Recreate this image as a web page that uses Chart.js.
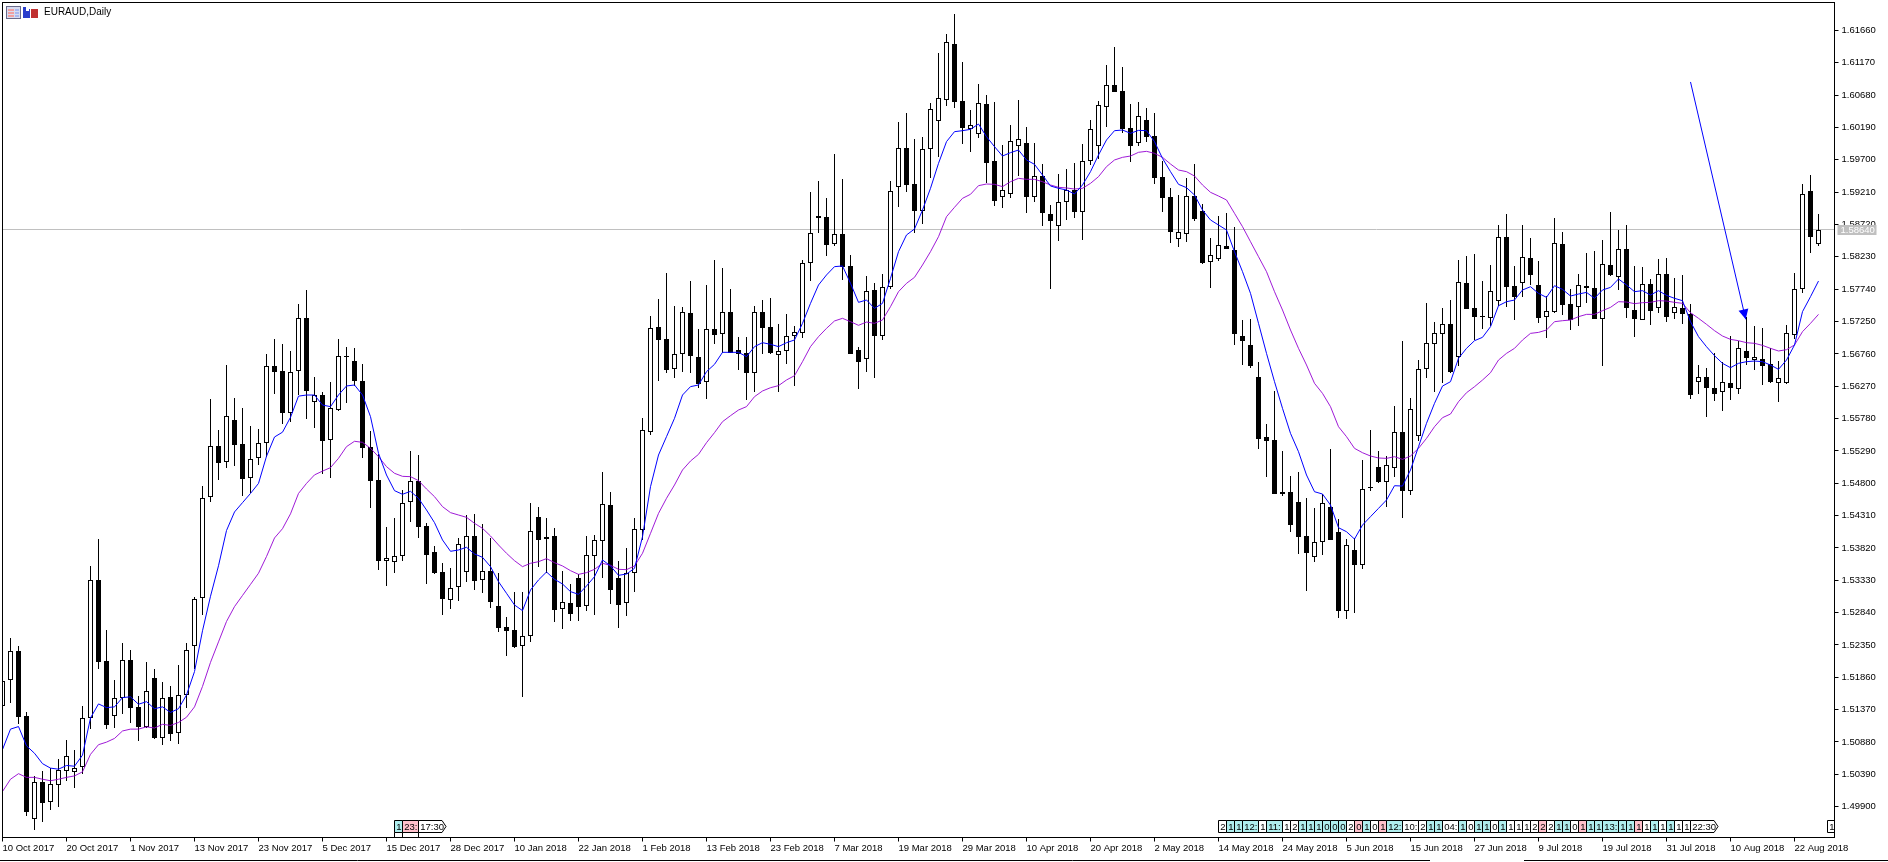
<!DOCTYPE html>
<html>
<head>
<meta charset="utf-8">
<title>EURAUD,Daily</title>
<style>
  html, body { margin: 0; padding: 0; background: #fff; overflow: hidden; }
  canvas { display: block; }
</style>
<script src="https://cdn.jsdelivr.net/npm/chart.js@4"></script>
</head>
<body>
<canvas id="chart" width="1888" height="862"></canvas>
<script>
const symbolTitle = 'EURAUD,Daily';
const lastPrice = 1.5864;

const tickDates = ['10 Oct 2017','20 Oct 2017','1 Nov 2017','13 Nov 2017','23 Nov 2017','5 Dec 2017','15 Dec 2017','28 Dec 2017','10 Jan 2018','22 Jan 2018','1 Feb 2018','13 Feb 2018','23 Feb 2018','7 Mar 2018','19 Mar 2018','29 Mar 2018','10 Apr 2018','20 Apr 2018','2 May 2018','14 May 2018','24 May 2018','5 Jun 2018','15 Jun 2018','27 Jun 2018','9 Jul 2018','19 Jul 2018','31 Jul 2018','10 Aug 2018','22 Aug 2018'];
const priceTicks = [1.6166,1.6117,1.6068,1.6019,1.597,1.5921,1.5872,1.5823,1.5774,1.5725,1.5676,1.5627,1.5578,1.5529,1.548,1.5431,1.5382,1.5333,1.5284,1.5235,1.5186,1.5137,1.5088,1.5039,1.499];

const opens = [
1.51429,1.51812,1.52256,1.51272,1.4972,1.50271,1.49978,1.50231,1.50445,1.50428,
1.50496,1.51249,1.5333,1.52104,1.51277,1.51542,1.52115,1.51412,1.51103,1.51857,
1.50946,1.51559,1.51013,1.51587,1.52329,1.53055,1.54596,1.5536,1.55119,1.55754,
1.55389,1.54877,1.55186,1.55405,1.5657,1.56497,1.55872,1.56497,1.57301,1.56024,
1.56131,1.55451,1.55915,1.56723,1.56653,1.56345,1.5535,1.54845,1.53627,1.53612,
1.53693,1.54511,1.5484,1.54148,1.53754,1.53451,1.53026,1.53223,1.53451,1.53996,
1.53329,1.53471,1.52936,1.52617,1.52572,1.5233,1.52481,1.54284,1.53951,1.53996,
1.5289,1.52981,1.5336,1.52946,1.53703,1.53931,1.54466,1.5336,1.52981,1.53446,
1.54087,1.55572,1.57163,1.56981,1.56526,1.56754,1.57375,1.56708,1.56339,1.57132,
1.57057,1.5739,1.56814,1.56769,1.56476,1.5739,1.57163,1.56738,1.56799,1.57036,
1.57072,1.58132,1.58844,1.58829,1.5842,1.58572,1.58087,1.56814,1.56678,1.57723,
1.57036,1.57769,1.59294,1.59875,1.59334,1.5893,1.59869,1.60294,1.60602,1.6145,
1.60587,1.60173,1.60097,1.60546,1.59678,1.59142,1.59188,1.59915,1.5995,1.59142,
1.59455,1.5888,1.58703,1.59066,1.59243,1.58915,1.59678,1.59905,1.60506,1.60834,
1.60743,1.60178,1.5996,1.60299,1.60061,1.59435,1.59137,1.58496,1.58572,1.59152,
1.58925,1.58147,1.58193,1.5839,1.58334,1.57026,1.5689,1.5641,1.55501,1.55455,
1.54667,1.54667,1.54516,1.54001,1.53687,1.53915,1.5444,1.54061,1.52869,1.53789,
1.53566,1.54738,1.55046,1.54824,1.55036,1.55576,1.54688,1.55521,1.56526,1.56915,
1.57066,1.57213,1.56708,1.57834,1.5745,1.57334,1.57309,1.57566,1.58526,1.57783,
1.57839,1.58208,1.57799,1.57314,1.574,1.5842,1.57511,1.57465,1.57763,1.57753,
1.57294,1.58102,1.5792,1.58344,1.5742,1.57268,1.57814,1.5745,1.57965,1.57374,
1.57455,1.57364,1.56329,1.56405,1.56238,1.56177,1.56314,1.56223,1.56799,1.56667,
1.56677,1.56602,1.56314,1.56314,1.57041,1.57748,1.59223,1.5842];

const closes = [
1.51806,1.52256,1.51266,1.49826,1.50271,1.49961,1.50237,1.50456,1.50664,1.5049,
1.51238,1.5333,1.52099,1.51142,1.51542,1.52115,1.51401,1.51114,1.5166,1.50946,
1.51542,1.51007,1.51587,1.52267,1.53043,1.54584,1.5536,1.55113,1.55816,1.55383,
1.54871,1.55175,1.55405,1.56581,1.56491,1.55872,1.5648,1.57301,1.56193,1.56142,
1.55445,1.55936,1.56723,1.56718,1.56355,1.5534,1.5484,1.53627,1.53663,1.53693,
1.54496,1.5483,1.54143,1.53718,1.53441,1.53052,1.53208,1.53875,1.53996,1.53324,
1.53466,1.53006,1.52612,1.52567,1.5232,1.52481,1.54072,1.53946,1.53991,1.52885,
1.53006,1.52824,1.5293,1.53708,1.53936,1.54481,1.53188,1.52961,1.53436,1.54102,
1.55602,1.57147,1.56976,1.56521,1.56754,1.5739,1.56733,1.56304,1.57132,1.57051,
1.5739,1.56779,1.56764,1.56476,1.5739,1.57158,1.56779,1.56799,1.57036,1.57087,
1.58132,1.58587,1.58824,1.58415,1.58572,1.58082,1.56764,1.56642,1.57718,1.57036,
1.57769,1.59223,1.59875,1.59319,1.5893,1.59864,1.60465,1.60632,1.61481,1.60582,
1.60188,1.60223,1.60556,1.59657,1.59082,1.59238,1.59981,1.60011,1.59142,1.5945,
1.589,1.58779,1.59056,1.59243,1.58915,1.59678,1.60162,1.60526,1.60829,1.60733,
1.60167,1.59915,1.60359,1.60051,1.5943,1.59127,1.58612,1.58602,1.59147,1.58809,
1.58137,1.58253,1.58405,1.58354,1.57066,1.5696,1.56582,1.5547,1.55445,1.54637,
1.54637,1.54172,1.53986,1.53743,1.53905,1.54496,1.5394,1.52864,1.53864,1.53561,
1.54708,1.54723,1.54819,1.55071,1.55571,1.54688,1.5592,1.56526,1.5692,1.57071,
1.57208,1.56485,1.57844,1.5744,1.57319,1.57319,1.57708,1.58526,1.57778,1.57627,
1.58223,1.5796,1.57309,1.57405,1.58435,1.57506,1.57273,1.57799,1.57793,1.57294,
1.58117,1.5796,1.58344,1.5746,1.57294,1.57814,1.57415,1.57965,1.57324,1.57465,
1.57359,1.56142,1.56405,1.56248,1.56157,1.56329,1.56243,1.56844,1.56703,1.56708,
1.56581,1.56339,1.56389,1.57071,1.57738,1.59177,1.58536,1.5864];

const highs = [
1.51975,1.52453,1.52329,1.51328,1.50372,1.5044,1.50484,1.50625,1.50906,1.5076,
1.51424,1.53544,1.53954,1.52577,1.51817,1.5238,1.52273,1.51581,1.52087,1.51986,
1.51795,1.51733,1.52048,1.5238,1.53071,1.54759,1.56075,1.55608,1.56592,1.56092,
1.5594,1.5567,1.55625,1.56761,1.56986,1.56913,1.56806,1.57514,1.57728,1.56412,
1.56182,1.56329,1.56981,1.56865,1.56845,1.56602,1.55592,1.55239,1.54138,1.54274,
1.54698,1.55289,1.55228,1.54193,1.5385,1.53587,1.53511,1.53966,1.54319,1.54335,
1.54183,1.53971,1.53436,1.52774,1.53153,1.53153,1.54496,1.54436,1.54274,1.54117,
1.53471,1.53274,1.5342,1.53996,1.54016,1.54971,1.54668,1.53622,1.53819,1.54274,
1.55789,1.57334,1.57592,1.57986,1.57486,1.57476,1.57865,1.57137,1.57804,1.58183,
1.58062,1.57743,1.57016,1.57016,1.57486,1.57577,1.57607,1.57213,1.57365,1.57183,
1.58183,1.59213,1.5938,1.59122,1.59789,1.5941,1.58259,1.56865,1.5794,1.57834,
1.57971,1.5938,1.60268,1.60405,1.60011,1.60046,1.60556,1.61319,1.61607,1.6191,
1.61188,1.60455,1.60849,1.60678,1.60577,1.59925,1.60228,1.60607,1.60198,1.59955,
1.59637,1.59016,1.59486,1.59561,1.59652,1.5994,1.60304,1.60587,1.61137,1.6141,
1.61107,1.60546,1.60577,1.60486,1.6041,1.59683,1.59274,1.59167,1.59425,1.59637,
1.59031,1.58516,1.58849,1.58895,1.58683,1.57274,1.57289,1.56637,1.55698,1.56198,
1.55289,1.5491,1.5497,1.54576,1.54425,1.54632,1.55319,1.54258,1.53955,1.53965,
1.55152,1.55607,1.55289,1.55213,1.5597,1.56955,1.56092,1.56667,1.57531,1.57243,
1.57455,1.57576,1.58182,1.58243,1.58273,1.57864,1.58107,1.58713,1.58879,1.58091,
1.58713,1.58516,1.58167,1.57637,1.58819,1.58607,1.57738,1.5797,1.58288,1.58319,
1.58485,1.5891,1.58637,1.58713,1.58091,1.58076,1.579,1.58198,1.58213,1.5791,
1.57955,1.57516,1.56591,1.56546,1.56773,1.56642,1.57031,1.56955,1.57319,1.57182,
1.57152,1.56844,1.56652,1.57198,1.57985,1.59329,1.5947,1.58879];

const lows = [
1.51328,1.51469,1.51159,1.49753,1.4954,1.49669,1.49849,1.49894,1.50288,1.50186,
1.504,1.51075,1.51986,1.51075,1.51092,1.51311,1.51171,1.50895,1.51086,1.50923,
1.50839,1.50895,1.5085,1.51395,1.51986,1.52802,1.54517,1.54854,1.55029,1.55062,
1.54607,1.54652,1.55079,1.55192,1.56153,1.55698,1.55732,1.56137,1.55777,1.55642,
1.54944,1.54885,1.559,1.56021,1.56274,1.55188,1.54426,1.53486,1.53249,1.53441,
1.53622,1.54213,1.53971,1.53274,1.53425,1.52804,1.52895,1.53016,1.53304,1.53183,
1.53138,1.52905,1.52547,1.52183,1.52309,1.51567,1.524,1.53537,1.53436,1.52698,
1.52592,1.52713,1.52713,1.52865,1.52804,1.53365,1.52971,1.52612,1.52789,1.53153,
1.53941,1.55531,1.56355,1.56476,1.564,1.56491,1.56471,1.56248,1.56082,1.5691,
1.56779,1.56769,1.56521,1.56067,1.56183,1.56759,1.56759,1.56183,1.56607,1.56279,
1.57006,1.57865,1.58597,1.58243,1.584,1.5788,1.56764,1.56233,1.56486,1.56395,
1.56966,1.57743,1.58986,1.59213,1.58597,1.58733,1.59425,1.59743,1.60516,1.60486,
1.5994,1.59819,1.60036,1.59344,1.59001,1.5897,1.59122,1.5945,1.58895,1.59061,
1.58698,1.57743,1.58471,1.58789,1.58819,1.58486,1.59622,1.59718,1.60198,1.60733,
1.60112,1.59667,1.5991,1.5997,1.59334,1.5891,1.5844,1.5838,1.58455,1.58774,
1.58122,1.57758,1.58167,1.58354,1.56895,1.56592,1.56551,1.55319,1.54895,1.54637,
1.54607,1.54061,1.53728,1.53167,1.53607,1.53713,1.5394,1.52758,1.52748,1.52834,
1.53501,1.54688,1.54804,1.5444,1.54895,1.54273,1.54622,1.5544,1.56395,1.56182,
1.56319,1.5647,1.56576,1.5744,1.5697,1.57137,1.57182,1.57485,1.5747,1.57273,
1.57627,1.57804,1.57233,1.57006,1.57374,1.57349,1.57122,1.57182,1.57531,1.57283,
1.56576,1.5794,1.57728,1.57309,1.57016,1.57268,1.57198,1.57374,1.57238,1.57294,
1.57213,1.56076,1.56152,1.55804,1.56046,1.55895,1.56061,1.56152,1.56591,1.56516,
1.56288,1.56324,1.56031,1.56304,1.56985,1.57682,1.58288,1.58395];

const fastAverage = [
1.50766,1.51075,1.51114,1.50822,1.50709,1.50552,1.50484,1.50468,1.50524,1.50513,
1.50681,1.51244,1.51457,1.51401,1.51412,1.51553,1.51564,1.51452,1.51491,1.51384,
1.51412,1.51328,1.51384,1.51592,1.51947,1.52565,1.53088,1.5355,1.54084,1.54365,
1.54506,1.54646,1.54798,1.55209,1.55501,1.55574,1.55799,1.5612,1.56137,1.56137,
1.55985,1.55961,1.56138,1.56274,1.56289,1.56138,1.55809,1.55254,1.54925,1.54688,
1.54633,1.54678,1.54572,1.54395,1.54203,1.53941,1.53769,1.53789,1.5383,1.53729,
1.53678,1.53537,1.53309,1.53133,1.52956,1.5287,1.53183,1.53335,1.53456,1.53345,
1.53274,1.53158,1.53117,1.53244,1.53385,1.53638,1.53547,1.53405,1.53425,1.53511,
1.53991,1.54748,1.55228,1.55506,1.55784,1.56137,1.56264,1.56289,1.56491,1.56602,
1.56784,1.56784,1.56784,1.56718,1.5687,1.5693,1.56905,1.5687,1.5693,1.56971,
1.57223,1.57526,1.57804,1.57956,1.58082,1.58092,1.57829,1.57541,1.57577,1.5745,
1.57526,1.57905,1.58309,1.58562,1.58652,1.5894,1.59269,1.59647,1.59976,1.60127,
1.60142,1.60162,1.60243,1.60051,1.599,1.59758,1.59809,1.59849,1.59698,1.59632,
1.5947,1.59304,1.59269,1.59243,1.59183,1.59319,1.59521,1.59774,1.60001,1.60142,
1.60152,1.60102,1.60147,1.60142,1.59976,1.59723,1.59521,1.59329,1.59279,1.59167,
1.5894,1.58789,1.58713,1.58637,1.58309,1.58006,1.57677,1.57223,1.56768,1.56339,
1.55935,1.55556,1.55278,1.54925,1.54672,1.54637,1.5447,1.54127,1.54066,1.53955,
1.54167,1.54294,1.5442,1.54546,1.54763,1.54758,1.55001,1.55354,1.55708,1.56011,
1.56273,1.56339,1.56693,1.56844,1.5696,1.57011,1.57172,1.5749,1.57551,1.57576,
1.57728,1.57778,1.57677,1.57617,1.57793,1.57738,1.57637,1.57667,1.57692,1.57602,
1.57728,1.57768,1.57895,1.57804,1.57703,1.57718,1.57652,1.57718,1.57647,1.57602,
1.57566,1.57248,1.57021,1.56869,1.56733,1.56617,1.56551,1.56617,1.56642,1.56652,
1.56642,1.56591,1.56526,1.56667,1.56895,1.574,1.57627,1.57864];

const slowAverage = [
1.5013,1.50316,1.504,1.50344,1.50344,1.50316,1.50293,1.50316,1.50344,1.50366,
1.50428,1.50693,1.50839,1.50878,1.50934,1.51047,1.51075,1.51075,1.51109,1.51092,
1.51148,1.51131,1.51176,1.51255,1.51412,1.51722,1.52087,1.52397,1.52706,1.52931,
1.531,1.53268,1.53437,1.5369,1.53971,1.54112,1.54337,1.54646,1.54798,1.54927,
1.54984,1.55037,1.55178,1.55355,1.55436,1.5542,1.5533,1.55203,1.55052,1.54951,
1.54905,1.549,1.5484,1.54713,1.54597,1.54446,1.54355,1.54319,1.54284,1.54193,
1.54117,1.54001,1.53865,1.53739,1.53627,1.53537,1.53587,1.53612,1.53658,1.53597,
1.53547,1.53476,1.5342,1.53446,1.53496,1.53587,1.53557,1.53496,1.53491,1.53547,
1.53739,1.54041,1.54344,1.54572,1.54774,1.55001,1.55137,1.55238,1.55415,1.55567,
1.55733,1.55824,1.5591,1.55961,1.56112,1.56198,1.56248,1.56279,1.56365,1.5643,
1.56642,1.5687,1.57021,1.57147,1.57259,1.57299,1.57248,1.57193,1.57243,1.57223,
1.57274,1.57476,1.57703,1.57829,1.5792,1.58107,1.58309,1.58536,1.58839,1.58981,
1.59117,1.59178,1.59309,1.59334,1.59329,1.59294,1.59369,1.5942,1.59405,1.59405,
1.59369,1.59319,1.59284,1.59274,1.59258,1.59269,1.59344,1.59445,1.59597,1.59698,
1.59738,1.59758,1.59814,1.59829,1.59799,1.59738,1.59637,1.59546,1.59521,1.59455,
1.59319,1.59208,1.59152,1.59092,1.5889,1.58688,1.5846,1.58233,1.58006,1.57703,
1.57425,1.57122,1.56844,1.56592,1.56314,1.56162,1.5596,1.55657,1.55506,1.55329,
1.55263,1.55213,1.55183,1.55177,1.55203,1.55162,1.55213,1.55329,1.5548,1.55657,
1.55794,1.55849,1.56036,1.56172,1.56263,1.56364,1.56475,1.56667,1.56768,1.56844,
1.5697,1.57071,1.57086,1.57122,1.57248,1.57263,1.57273,1.57324,1.57359,1.57359,
1.57415,1.57465,1.57551,1.57546,1.57521,1.57536,1.57541,1.57566,1.57561,1.57541,
1.57526,1.57384,1.57299,1.57208,1.57112,1.57031,1.5698,1.5696,1.5693,1.5692,
1.56889,1.56844,1.56804,1.56824,1.56895,1.57097,1.57223,1.57359];

// Hand-drawn arrow object: bar position and price of each end.
const arrowFrom = { bar: 211, price: 1.6088 };
const arrowTo = { bar: 217.9, price: 1.57284 };

// Terminal trade-marker tags along the bottom edge; w = white, t = turquoise, p = pink.
const tagsRowA = [['1','t'],['23:','p'],['17:30','w']];
const tagsRowB = [['2','w'],['1','t'],['1','t'],['12:','t'],['1','w'],['11:','t'],['1','w'],['2','w'],['1','t'],['1','t'],['1','t'],['0','t'],['0','t'],['0','t'],['2','w'],['0','p'],['1','t'],['0','w'],['1','p'],['12:','t'],['10:','w'],['2','w'],['1','t'],['1','t'],['04:','w'],['1','t'],['0','w'],['1','t'],['1','t'],['0','w'],['1','t'],['1','w'],['1','w'],['1','w'],['2','w'],['2','p'],['2','w'],['1','t'],['1','t'],['0','w'],['1','p'],['1','t'],['1','t'],['13:','t'],['1','t'],['1','t'],['1','p'],['1','w'],['1','t'],['1','w'],['1','t'],['1','w'],['1','w'],['22:30','w']];

const AXIS_FONT = 'Liberation Sans';
const barSlots = Array.from({ length: 230 }, (_, i) => i);
const bodyRanges = opens.map((o, i) => [Math.min(o, closes[i]), Math.max(o, closes[i])]);
const wickRanges = lows.map((l, i) => [l, highs[i]]);
const bodyFill = opens.map((o, i) => (closes[i] >= o ? '#ffffff' : '#000000'));

// Snaps bar edges to whole pixels so candle bodies and wicks stay sharp.
const snapBars = {
  id: 'snapBars',
  beforeDatasetsDraw(chart) {
    chart.getSortedVisibleDatasetMetas().forEach(meta => {
      if (meta.type !== 'bar') return;
      meta.data.forEach(el => {
        const top = Math.round(el.y);
        let bottom = Math.round(el.base);
        if (bottom <= top) bottom = top + 1;
        el.y = top;
        el.base = bottom;
      });
    });
  }
};

function drawTags(ctx, tags, startX, stubs) {
  const fills = { w: '#ffffff', t: '#afeeee', p: '#ffc0cb' };
  let x = startX;
  ctx.font = '9.5px ' + AXIS_FONT;
  ctx.textBaseline = 'middle';
  tags.forEach(([label, fill]) => {
    const w = label.length === 1 ? 8 : label.length === 3 ? 16 : 24;
    ctx.fillStyle = fills[fill];
    ctx.strokeStyle = '#000';
    ctx.lineWidth = 1;
    ctx.beginPath();
    if (label.length === 5) {
      ctx.moveTo(x + 0.5, 820.5); ctx.lineTo(x + w, 820.5); ctx.lineTo(x + w + 4, 826.5);
      ctx.lineTo(x + w, 832.5); ctx.lineTo(x + 0.5, 832.5); ctx.closePath();
    } else {
      ctx.rect(x + 0.5, 820.5, w, 12);
    }
    ctx.fill();
    ctx.stroke();
    if (stubs) {
      ctx.beginPath(); ctx.moveTo(x + 0.5, 832.5); ctx.lineTo(x + 0.5, 837); ctx.stroke();
    }
    ctx.fillStyle = '#000';
    ctx.textAlign = 'left';
    ctx.fillText(label, x + 2.2, 827);
    x += w;
  });
}

// Everything that sits on the chart apart from the candles and averages.
const terminalOverlay = {
  id: 'terminalOverlay',
  beforeDatasetsDraw(chart) {
    const { ctx, chartArea: a, scales: { y } } = chart;
    const py = Math.round(y.getPixelForValue(lastPrice)) - 0.5;
    ctx.save();
    ctx.strokeStyle = '#c0c0c0';
    ctx.lineWidth = 1;
    ctx.beginPath(); ctx.moveTo(a.left, py); ctx.lineTo(a.right, py); ctx.stroke();
    ctx.restore();
  },
  afterDraw(chart) {
    const { ctx, chartArea: a, scales: { x, y } } = chart;
    ctx.save();

    // arrow object
    const x0 = x.getPixelForValue(arrowFrom.bar), y0 = y.getPixelForValue(arrowFrom.price);
    const x1 = x.getPixelForValue(arrowTo.bar), y1 = y.getPixelForValue(arrowTo.price);
    const ang = Math.atan2(y1 - y0, x1 - x0);
    ctx.strokeStyle = '#0000ff';
    ctx.fillStyle = '#0000ff';
    ctx.lineWidth = 1;
    ctx.beginPath(); ctx.moveTo(x0, y0); ctx.lineTo(x1, y1); ctx.stroke();
    ctx.beginPath();
    ctx.moveTo(x1, y1);
    ctx.lineTo(x1 - 10 * Math.cos(ang) - 5 * Math.sin(ang), y1 - 10 * Math.sin(ang) + 5 * Math.cos(ang));
    ctx.lineTo(x1 - 10 * Math.cos(ang) + 5 * Math.sin(ang), y1 - 10 * Math.sin(ang) - 5 * Math.cos(ang));
    ctx.closePath();
    ctx.fill();

    // trade-marker tags
    drawTags(ctx, tagsRowA, 394, true);
    drawTags(ctx, tagsRowB, 1218, false);
    ctx.save();
    ctx.beginPath(); ctx.rect(1820, 815, 14, 22); ctx.clip();
    drawTags(ctx, [['1', 'w']], 1827, false);
    ctx.restore();

    // plot frame
    ctx.strokeStyle = '#000';
    ctx.lineWidth = 1;
    ctx.strokeRect(a.left, a.top, a.right - a.left, a.bottom - a.top);

    // last price tag on the axis
    const py = Math.round(y.getPixelForValue(lastPrice));
    ctx.fillStyle = '#c0c0c0';
    ctx.fillRect(a.right + 3, py - 5, 39, 10);
    ctx.fillStyle = '#ffffff';
    ctx.font = '9.5px ' + AXIS_FONT;
    ctx.textAlign = 'left';
    ctx.textBaseline = 'middle';
    ctx.fillText(lastPrice.toFixed(5), a.right + 6, py + 0.5);

    // window frame along the bottom
    ctx.strokeStyle = '#000';
    ctx.beginPath();
    ctx.moveTo(0, 860.5); ctx.lineTo(1430, 860.5);
    ctx.moveTo(1524, 860.5); ctx.lineTo(1888, 860.5);
    ctx.stroke();

    // title row with the two small window icons
    ctx.strokeStyle = '#6a6a8a';
    ctx.fillStyle = '#d8dcf0';
    ctx.fillRect(6.5, 6.5, 14, 12);
    ctx.strokeRect(6.5, 6.5, 14, 12);
    ctx.fillStyle = '#f0a0a0';
    ctx.fillRect(8, 9, 6, 2); ctx.fillRect(8, 12, 6, 2); ctx.fillRect(8, 15, 6, 2);
    ctx.fillStyle = '#a8b8f0';
    ctx.fillRect(15, 9, 4, 2); ctx.fillRect(15, 12, 4, 2); ctx.fillRect(15, 15, 4, 2);
    ctx.fillStyle = '#2a3ecc';
    ctx.fillRect(23, 7, 7, 11);
    ctx.fillStyle = '#c03030';
    ctx.fillRect(31, 9, 7, 9);
    ctx.fillStyle = '#ffffff';
    ctx.fillRect(26, 7, 3, 4); ctx.fillRect(28, 6, 6, 3);
    ctx.fillStyle = '#000';
    ctx.font = '10px ' + AXIS_FONT;
    ctx.textAlign = 'left';
    ctx.textBaseline = 'middle';
    ctx.fillText(symbolTitle, 44, 12.5);
    ctx.restore();
  }
};

new Chart(document.getElementById('chart'), {
  type: 'bar',
  data: {
    labels: barSlots,
    datasets: [
      { type: 'line', label: 'Fast MA', data: fastAverage, borderColor: '#0000ff', borderWidth: 1, pointRadius: 0, tension: 0, order: 1, fill: false },
      { type: 'line', label: 'Slow MA', data: slowAverage, borderColor: '#9400d3', borderWidth: 0.9, pointRadius: 0, tension: 0, order: 2, fill: false },
      { label: 'Body', data: bodyRanges, backgroundColor: bodyFill, borderColor: '#000', borderWidth: 1, borderSkipped: false, barThickness: 5, inflateAmount: 0, order: 3 },
      { label: 'Range', data: wickRanges, backgroundColor: '#000', borderWidth: 0, barThickness: 1, inflateAmount: 0, order: 4 }
    ]
  },
  options: {
    responsive: false,
    animation: false,
    events: [],
    layout: { padding: { left: 2.5, top: 2.5, right: 0, bottom: 0 } },
    plugins: { legend: { display: false }, tooltip: { enabled: false }, title: { display: false } },
    datasets: { bar: { grouped: false } },
    scales: {
      x: {
        type: 'category',
        offset: false,
        grid: { offset: false, drawOnChartArea: false, drawTicks: true, tickLength: 4, color: '#000' },
        border: { display: true, color: '#000' },
        afterBuildTicks(axis) { axis.ticks = axis.ticks.filter(t => t.value % 8 === 0 && t.value / 8 < tickDates.length); },
        afterFit(axis) { axis.height = 24.5; axis.paddingLeft = 0; axis.paddingRight = 0; },
        ticks: {
          autoSkip: false, maxRotation: 0, minRotation: 0, align: 'start', padding: 1,
          color: '#000', font: { family: AXIS_FONT, size: 9.5 },
          callback(v) { return tickDates[v / 8]; }
        }
      },
      y: {
        type: 'linear',
        position: 'right',
        min: 1.49433,
        max: 1.62084,
        grid: { drawOnChartArea: false, drawTicks: true, tickLength: 4, color: '#000' },
        border: { display: true, color: '#000' },
        afterBuildTicks(axis) { axis.ticks = priceTicks.map(v => ({ value: v })); },
        afterFit(axis) { axis.width = 53.5; axis.paddingTop = 0; axis.paddingBottom = 0; },
        ticks: {
          padding: 3, color: '#000', crossAlign: 'near', font: { family: AXIS_FONT, size: 9.5 },
          callback(v) { return v.toFixed(5); }
        }
      }
    }
  },
  plugins: [snapBars, terminalOverlay]
});
</script>
</body>
</html>
